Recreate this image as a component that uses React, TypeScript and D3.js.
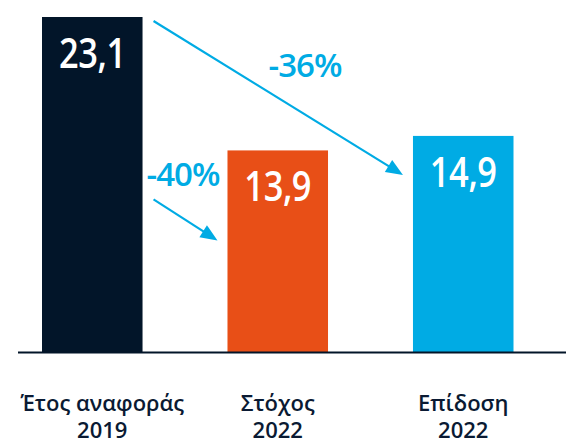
import React from "react";
import * as d3 from "d3";

const categories = ["Έτος αναφοράς", "Στόχος", "Επίδοση"];
const years = ["2019", "2022", "2022"];
const values = [23.1, 13.9, 14.9];
const valueLabels = ["23,1", "13,9", "14,9"];
const changeLabels = ["-40%", "-36%"];
const colors = ["#021529", "#e84f17", "#00abe4"];

const W = 566;
const H = 440;
const baseY = 352;
const FONT = "'Open Sans', sans-serif";
const ARROW = "#00abe4";

export default function App() {
  const x = d3.scaleBand<number>().domain([0, 1, 2]).range([42, 513.5]).paddingInner(0.458).paddingOuter(0);
  const y = d3.scaleLinear().domain([0, 23.1]).range([baseY, 17]);
  const bw = x.bandwidth();
  const cx = (i: number) => (x(i) as number) + bw / 2;
  const labelDx = [10, 0, 0];

  const a1 = { x1: (x(0) as number) + bw + 11, y1: y(values[0]) + 4, x2: (x(2) as number) - 10, y2: y(values[2]) + 39 };
  const a2 = { x1: (x(0) as number) + bw + 11, y1: y(values[1]) + 49, x2: (x(1) as number) - 10, y2: y(values[1]) + 90 };

  return (
    <svg width={W} height={H} style={{ position: "absolute", left: 0, top: 0 }}>
      {values.map((v, i) => (
        <rect key={i} x={x(i)} y={y(v)} width={bw} height={baseY - y(v)} fill={colors[i]} />
      ))}
      <line x1={18} x2={W} y1={baseY + 0.5} y2={baseY + 0.5} stroke="#021529" strokeWidth={2} />
      {values.map((v, i) => (
        <text key={i} transform={`translate(${cx(i)},${y(v) + 51}) scale(0.82,1)`} textAnchor="middle" fill="#fff" fontFamily={FONT} fontWeight={600} fontSize={42} letterSpacing={-0.5}>
          {valueLabels[i]}
        </text>
      ))}
      {[a1, a2].map((a, i) => {
        const ang = Math.atan2(a.y2 - a.y1, a.x2 - a.x1);
        const L = 17, Wd = 7;
        const bx = a.x2 - L * Math.cos(ang), by = a.y2 - L * Math.sin(ang);
        const px = -Math.sin(ang) * Wd, py = Math.cos(ang) * Wd;
        return (
          <g key={i}>
            <line x1={a.x1} y1={a.y1} x2={bx + 3 * Math.cos(ang)} y2={by + 3 * Math.sin(ang)} stroke={ARROW} strokeWidth={2.2} />
            <path d={`M${a.x2},${a.y2}L${bx + px},${by + py}L${bx - px},${by - py}Z`} fill={ARROW} />
          </g>
        );
      })}
      <text x={305} y={77} textAnchor="middle" fill={ARROW} fontFamily={FONT} fontWeight={600} fontSize={33} letterSpacing={-1}>{changeLabels[1]}</text>
      <text x={183} y={186} textAnchor="middle" fill={ARROW} fontFamily={FONT} fontWeight={600} fontSize={33} letterSpacing={-1}>{changeLabels[0]}</text>
      {categories.map((c, i) => (
        <text key={i} x={cx(i) + labelDx[i]} textAnchor="middle" fill="#0a1a33" fontFamily={FONT} fontWeight={600} fontSize={22}>
          <tspan x={cx(i) + labelDx[i]} y={411}>{c}</tspan>
          <tspan x={cx(i) + labelDx[i]} y={438}>{years[i]}</tspan>
        </text>
      ))}
    </svg>
  );
}
